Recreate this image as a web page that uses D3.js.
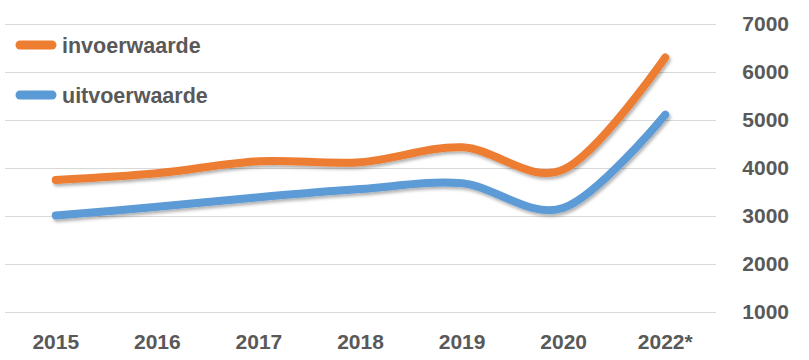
<!DOCTYPE html>
<html><head><meta charset="utf-8">
<script src="https://cdn.jsdelivr.net/npm/d3@7"></script>
<style>
html,body{margin:0;padding:0;background:#fff;}
svg{display:block;font-family:"Liberation Sans",Arial,sans-serif;font-weight:bold;}
</style></head>
<body><svg id="c" width="809" height="360"></svg>
<script>
const categories = ["2015","2016","2017","2018","2019","2020","2022*"];
const invoerwaarde = [3740, 3880, 4130, 4110, 4420, 3960, 6290];
const uitvoerwaarde = [3000, 3180, 3380, 3550, 3670, 3160, 5100];
const yTicks = [1000, 2000, 3000, 4000, 5000, 6000, 7000];
const seriesNames = ["invoerwaarde", "uitvoerwaarde"];
const colors = ["#ED7D31", "#5B9BD5"];

const svg = d3.select("#c");
const x = d3.scaleBand().domain(categories).range([5, 716]);
const y = d3.scaleLinear().domain([1000, 7000]).range([311.5, 23.5]);

const defs = svg.append("defs");
const f = defs.append("filter").attr("id","sh").attr("x","-10%").attr("y","-20%").attr("width","130%").attr("height","150%");
f.append("feDropShadow").attr("dx",1.5).attr("dy",2.5).attr("stdDeviation",1.6)
  .attr("flood-color","#000").attr("flood-opacity",0.3);

// gridlines
const grid = svg.append("g").attr("transform","translate(5,0)")
  .call(d3.axisRight(y).tickValues(yTicks).tickSize(711).tickFormat(""));
grid.select(".domain").remove();
grid.selectAll("line").attr("stroke","#d9d9d9").attr("stroke-width",1).attr("shape-rendering","crispEdges");

// y axis labels (right)
const ya = svg.append("g").attr("transform","translate(789,0)")
  .call(d3.axisLeft(y).tickValues(yTicks).tickSize(0).tickPadding(0).tickFormat(d3.format("d")));
ya.select(".domain").remove();
ya.selectAll("text").attr("fill","#595959").style("font-size","21px")
  .style("font-family","'Liberation Sans',Arial,sans-serif").style("font-weight","bold").attr("dy","0.35em");

// x axis labels
const xa = svg.append("g").attr("transform","translate(0,331)")
  .call(d3.axisBottom(x).tickSize(0).tickPadding(0));
xa.select(".domain").remove();
xa.selectAll("text").attr("fill","#595959").style("font-size","21px")
  .style("font-family","'Liberation Sans',Arial,sans-serif").style("font-weight","bold").attr("dy","0.85em");

// lines
const line = d3.line()
  .x((d,i) => x(categories[i]) + x.bandwidth()/2)
  .y(d => y(d))
  .curve(d3.curveCatmullRom.alpha(0));
[invoerwaarde, uitvoerwaarde].forEach((s, k) => {
  svg.append("path").datum(s).attr("d", line)
    .attr("fill","none").attr("stroke", colors[k]).attr("stroke-width",8)
    .attr("stroke-linecap","round").attr("stroke-linejoin","round")
    .attr("filter","url(#sh)");
});

// legend
const lg = svg.append("g");
seriesNames.forEach((n, k) => {
  const cy = 45 + k * 50;
  lg.append("line").attr("x1",20).attr("x2",52).attr("y1",cy).attr("y2",cy)
    .attr("stroke",colors[k]).attr("stroke-width",9).attr("stroke-linecap","round");
  lg.append("text").attr("x",62).attr("y",cy+8).text(n)
    .attr("fill","#595959").style("font-size","21.5px");
});
</script></body></html>
